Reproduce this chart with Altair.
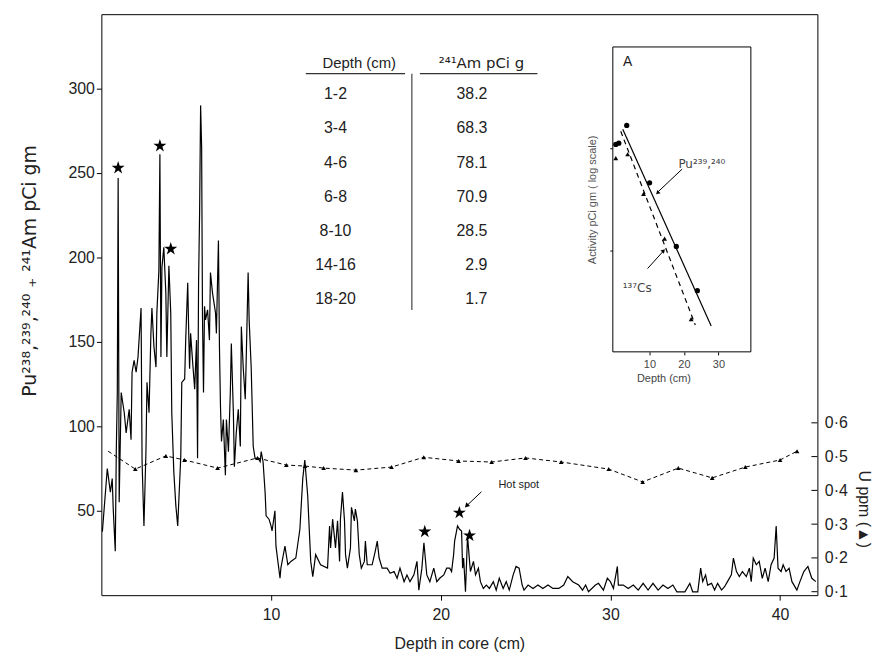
import altair as alt
import pandas as pd

# ---------------- data ----------------
# Pu(238,239,240) + Am(241) activity (pCi/gm) vs depth in core (cm)
depth = [0.06, 0.35, 0.53, 0.64, 0.70, 0.82, 0.88, 0.94, 0.99, 1.05, 1.17, 1.35, 1.46, 1.64, 1.75,
         1.81, 1.93, 2.05, 2.16, 2.34, 2.40, 2.51, 2.63, 2.69, 2.81, 2.92, 2.98, 3.10, 3.22, 3.27,
         3.39, 3.45, 3.51, 3.57, 3.68, 3.80, 3.86, 3.98, 4.09, 4.15, 4.27, 4.39, 4.50, 4.68, 4.74,
         4.91, 4.97, 5.09, 5.15, 5.20, 5.26, 5.38, 5.50, 5.61, 5.67, 5.73, 5.79, 5.85, 5.91, 5.96,
         6.02, 6.08, 6.14, 6.26, 6.37, 6.43, 6.55, 6.73, 6.78, 6.90, 6.96, 7.02, 7.08, 7.19, 7.31,
         7.37, 7.49, 7.60, 7.66, 7.78, 7.84, 7.95, 8.07, 8.19, 8.25, 8.36, 8.48, 8.54, 8.65, 8.71,
         8.83, 8.95, 9.06, 9.24, 9.36, 9.42, 9.53, 9.65, 9.71, 9.88, 10.00, 10.06, 10.23, 10.29, 10.53,
         10.58, 10.82, 10.99, 11.17, 11.46, 11.70, 11.87, 11.99, 12.16, 12.34, 12.46, 12.63, 12.92, 13.33, 13.45,
         13.51, 13.63, 13.80, 13.92, 14.04, 14.09, 14.21, 14.33, 14.39, 14.50, 14.68, 14.74, 14.91, 14.97, 15.09,
         15.20, 15.32, 15.50, 15.56, 15.67, 15.96, 16.14, 16.26, 16.37, 16.55, 16.84, 17.02, 17.25, 17.43, 17.60,
         17.84, 18.01, 18.19, 18.42, 18.60, 18.71, 18.89, 19.01, 19.18, 19.36, 19.59, 19.77, 19.94, 20.18, 20.35,
         20.53, 20.64, 20.76, 20.82, 20.99, 21.11, 21.23, 21.29, 21.35, 21.46, 21.58, 21.70, 21.75, 21.93, 22.05,
         22.22, 22.34, 22.51, 22.69, 22.87, 23.10, 23.27, 23.45, 23.68, 23.86, 24.04, 24.27, 24.44, 24.62, 24.80,
         24.91, 25.15, 25.44, 25.73, 26.02, 26.32, 26.61, 26.96, 27.25, 27.49, 27.78, 28.13, 28.36, 28.54, 28.71,
         29.12, 29.30, 29.59, 29.82, 30.00, 30.18, 30.41, 30.47, 30.76, 31.05, 31.35, 31.64, 31.93, 32.22, 32.51,
         32.81, 33.10, 33.39, 33.68, 33.92, 34.39, 34.68, 34.85, 35.15, 35.32, 35.44, 35.61, 35.73, 35.96, 36.14,
         36.32, 36.55, 36.73, 36.90, 37.13, 37.25, 37.43, 37.60, 37.78, 38.01, 38.19, 38.30, 38.42, 38.60, 38.77,
         38.95, 39.12, 39.30, 39.47, 39.65, 39.77, 39.88, 40.06, 40.18, 40.35, 40.53, 40.70, 40.99, 41.17, 41.40,
         41.64, 41.87, 42.11]
activity = [37.6, 75, 61, 69, 51, 26, 85, 120, 247, 55, 120, 108, 96, 110, 92,
            132, 139, 132, 141, 170, 79, 41, 86, 126, 108, 155, 170, 147, 135, 167,
            192, 261, 141, 194, 206, 179, 141, 195, 167, 108, 73, 53, 41, 82, 126,
            128, 151, 185, 155, 134, 155, 138, 122, 151, 81, 186, 226, 290, 265, 165,
            120, 171, 163, 169, 151, 191, 179, 167, 155, 210, 147, 112, 91, 104, 71,
            104, 85, 120, 149, 108, 76, 96, 110, 88, 159, 135, 116, 141, 191, 163,
            135, 88, 81, 81, 79, 85, 79, 61, 47, 45, 41, 38, 50, 29, 10,
            16, 29, 18, 20, 22, 39, 69, 80, 59, 20, 11, 24, 18, 16, 41,
            28, 45, 28, 44, 20, 45, 61, 44, 24, 16, 28, 52, 44, 51, 44,
            24, 16, 20, 32, 18, 18, 26, 32, 22, 16, 16, 13, 14, 10, 16,
            8, 12, 8, 12, 20, 3, 16, 31, 12, 8, 16, 8, 10, 12, 16,
            16, 14, 24, 32, 41, 39, 38, 16, 22, 2, 35, 20, 14, 20, 12,
            16, 8, 4, 6, 4, 8, 3, 10, 4, 8, 3, 12, 17, 16, 6,
            3, 6, 4, 6, 4, 6, 4, 4, 6, 11, 8, 6, 3, 6, 2,
            6, 7, 3, 10, 8, 4, 17, 6, 6, 4, 6, 3, 7, 3, 7,
            3, 6, 4, 6, 2, 2, 7, 2, 2, 16, 8, 12, 6, 7, 3,
            7, 3, 5, 8, 12, 22, 14, 11, 14, 11, 16, 8, 22, 18, 20,
            10, 16, 8, 18, 22, 41, 16, 14, 18, 14, 16, 8, 3, 8, 14,
            17, 10, 8]

# Uranium (ppm) profile (dashed line with triangles, right axis)
u_depth = [0.4, 2.0, 3.8, 4.9, 6.85, 9.2, 10.9, 12.0, 13.1, 15.0, 17.1, 19.0, 21.05, 23.0,
           25.0, 27.1, 29.9, 31.9, 34.0, 36.0, 37.95, 40.0, 41.0]
u_ppm = [0.516, 0.463, 0.502, 0.490, 0.466, 0.496, 0.475, 0.472, 0.466, 0.460, 0.469, 0.498,
         0.487, 0.484, 0.496, 0.484, 0.463, 0.425, 0.466, 0.437, 0.469, 0.490, 0.516]

# starred peaks
star_depth = [0.99, 3.45, 4.09, 19.06, 21.1, 21.7]
star_val = [253, 266, 205, 37.6, 48.8, 35.3]

# Am-241 table
table_depth = ["1-2", "3-4", "4-6", "6-8", "8-10", "14-16", "18-20"]
table_am = ["38.2", "68.3", "78.1", "70.9", "28.5", "2.9", "1.7"]

# inset A (log activity vs depth)
inset_pu_depth = [0.26, 1.13, 3.43, 10.05, 17.8, 23.9]
inset_pu_act = [110, 113, 169, 46, 10.9, 4.0]
inset_cs_depth = [0.26, 3.7, 8.3, 14.4, 22.1]
inset_cs_act = [80.5, 88, 35.8, 13, 2.1]
inset_pu_fit_depth = [2.28, 27.9]
inset_pu_fit_act = [155, 1.8]
inset_cs_fit_depth = [1.7, 23.3]
inset_cs_fit_act = [148, 1.84]

x_ticks = [10, 20, 30, 40]
y_ticks = [50, 100, 150, 200, 250, 300]
u_ticks = [0.1, 0.2, 0.3, 0.4, 0.5, 0.6]
inset_x_ticks = [10, 20, 30]
inset_y_ticks = [10, 100]

# ---------------- styling ----------------
FONT = "Liberation Sans"
SUPFONT = "DejaVu Sans"
INK = "#222222"
W, H = 721, 585
STAR = ("M0,-1 L0.2245,-0.309 L0.951,-0.309 L0.363,0.118 L0.588,0.809 L0,0.382 "
        "L-0.588,0.809 L-0.363,0.118 L-0.951,-0.309 L-0.2245,-0.309 Z")

X_MAIN = alt.Scale(domain=[0, 42.2], nice=False, zero=False)
Y_MAIN = alt.Scale(domain=[0, 344], nice=False, zero=False)
Y_U = alt.Scale(domain=[0.0897, 1.81], nice=False, zero=False)
X_IN = alt.Scale(domain=[-0.6, 39.4], range=[515, 654], nice=False, zero=False)
Y_IN = alt.Scale(type="log", domain=[1, 1000], range=[340, 33], nice=False)

ax_x = alt.Axis(orient="bottom", values=x_ticks, tickSize=5, labelPadding=6, titlePadding=14,
                labelFontSize=16, titleFontSize=16, domain=False, grid=False, format="d")
ax_y = alt.Axis(orient="left", values=y_ticks, tickSize=5, labelPadding=2, labelFontSize=16,
                titleFont=SUPFONT, titleFontSize=19, titleAngle=270, titleX=-66, titleY=258,
                titleBaseline="alphabetic", domain=False, grid=False, format="d")
ax_u = alt.Axis(orient="right", values=u_ticks, ticks=False, labelPadding=7, labelFontSize=16,
                labelExpr="replace(format(datum.value, '.1f'), '.', '·')",
                titleFontSize=16, titleAngle=90, titleX=41, titleY=498, titleBaseline="alphabetic",
                domain=False, grid=False)
ax_ix = alt.Axis(orient="bottom", offset=-245, values=inset_x_ticks, tickSize=3, labelPadding=4,
                 titlePadding=3, labelFontSize=11, titleFontSize=11, titleX=566,
                 labelColor="#444444", titleColor="#444444", domain=False, grid=False, format="d")
ax_iy = alt.Axis(orient="left", offset=-515, values=inset_y_ticks, labels=False, tickSize=3,
                 titlePadding=12, titleFontSize=11, titleColor="#555555", domain=False, grid=False)

LEFT_TITLE = "Pu²³⁸,²³⁹,²⁴⁰ ₊ ²⁴¹Am   pCi   gm"


def xe():
    return alt.X("d:Q", scale=X_MAIN, axis=ax_x, title="Depth in core  (cm)")


def ye():
    return alt.Y("v:Q", scale=Y_MAIN, axis=ax_y, title=LEFT_TITLE)


def ixe():
    return alt.X("ix:Q", scale=X_IN, axis=ax_ix, title="Depth (cm)")


def iye():
    return alt.Y("iy:Q", scale=Y_IN, axis=ax_iy, title="Activity  pCi gm ( log scale)")


# ---------------- main layer ----------------
df_trace = pd.DataFrame({"d": depth, "v": activity})
trace = alt.Chart(df_trace).mark_line(color="black", strokeWidth=1.2, strokeJoin="miter").encode(
    x=xe(), y=ye())

df_star = pd.DataFrame({"d": star_depth, "v": star_val})
stars = alt.Chart(df_star).mark_point(shape=STAR, filled=True, color="black", size=190,
                                      opacity=1).encode(x=xe(), y=ye())

df_hot_line = pd.DataFrame({"d": [22.4], "d2": [21.6], "v": [61.2], "v2": [53.6]})
hot_line = alt.Chart(df_hot_line).mark_rule(color="black", strokeWidth=1).encode(
    x=xe(), x2="d2:Q", y=ye(), y2="v2:Q")
df_hot_head = pd.DataFrame({"d": [21.52], "v": [52.9], "a": [225]})
hot_head = alt.Chart(df_hot_head).mark_point(shape="triangle-up", filled=True, color="black",
                                             size=28, opacity=1).encode(
    x=xe(), y=ye(), angle=alt.Angle("a:Q", scale=None))
df_hot_text = pd.DataFrame({"d": [24.6], "v": [65], "t": ["Hot  spot"]})
hot_text = alt.Chart(df_hot_text).mark_text(font=FONT, fontSize=11, color=INK, baseline="middle").encode(
    x=xe(), y=ye(), text="t:N")

# table (rows laid out from the top row downward)
row_top, row_step = 296.5, 20.2
df_rows = pd.DataFrame({
    "c1": table_depth,
    "c2": table_am,
    "v": [row_top - i * row_step for i in range(len(table_depth))],
})
df_rows["d1"] = 13.8
df_rows["d2"] = 22.75
col1 = alt.Chart(df_rows).mark_text(font=FONT, fontSize=16, color=INK, baseline="middle").encode(
    x=alt.X("d1:Q", scale=X_MAIN, axis=ax_x, title="Depth in core  (cm)"), y=ye(), text="c1:N")
col2 = alt.Chart(df_rows).mark_text(font=FONT, fontSize=16, color=INK, baseline="middle",
                                    align="right").encode(
    x=alt.X("d2:Q", scale=X_MAIN, axis=ax_x, title="Depth in core  (cm)"), y=ye(), text="c2:N")
df_head1 = pd.DataFrame({"d": [15.2], "v": [315.3], "t": ["Depth (cm)"]})
head1 = alt.Chart(df_head1).mark_text(font=FONT, fontSize=15, color=INK, baseline="middle").encode(
    x=xe(), y=ye(), text="t:N")
df_head2 = pd.DataFrame({"d": [22.4], "v": [315.3], "t": ["²⁴¹Am  pCi  g"]})
head2 = alt.Chart(df_head2).mark_text(font=SUPFONT, fontSize=15, color=INK, baseline="middle").encode(
    x=xe(), y=ye(), text="t:N")
df_tab_lines = pd.DataFrame({"d": [12.05, 18.77, 18.3], "d2": [17.9, 25.7, 18.3],
                             "v": [308.8, 308.8, 308.8], "v2": [308.8, 308.8, 168.8]})
tab_lines = alt.Chart(df_tab_lines).mark_rule(color="#333333", strokeWidth=1.1).encode(
    x=xe(), x2="d2:Q", y=ye(), y2="v2:Q")

main = alt.layer(trace, stars, hot_line, hot_head, hot_text, tab_lines, head1, head2, col1, col2)

# ---------------- uranium layer (right axis) ----------------
df_u = pd.DataFrame({"d": u_depth, "u": u_ppm})
UX = alt.X("d:Q", scale=X_MAIN, axis=None)
UY = alt.Y("u:Q", scale=Y_U, axis=ax_u, title="U ppm (▲)")
u_line = alt.Chart(df_u).mark_line(color="black", strokeWidth=1, strokeDash=[4, 3]).encode(x=UX, y=UY)
u_pts = alt.Chart(df_u.iloc[1:]).mark_point(shape="triangle-up", filled=True, color="black",
                                            size=22, opacity=1).encode(x=UX, y=UY)
df_uticks = pd.DataFrame({"u": u_ticks})
u_tick_marks = alt.Chart(df_uticks).mark_rule(color="black", strokeWidth=1).encode(
    y=UY, x=alt.value(W - 6), x2=alt.value(W))
u_layer = alt.layer(u_line, u_pts, u_tick_marks)

# ---------------- inset A ----------------
df_box = pd.DataFrame({"ix": [-0.6], "ix2": [39.4], "iy": [1], "iy2": [1000]})
box = alt.Chart(df_box).mark_rect(fill="white", stroke="black", strokeWidth=1).encode(
    x=ixe(), x2="ix2:Q", y=iye(), y2="iy2:Q")
df_pu_fit = pd.DataFrame({"ix": inset_pu_fit_depth, "iy": inset_pu_fit_act})
pu_fit = alt.Chart(df_pu_fit).mark_line(color="black", strokeWidth=1.2).encode(x=ixe(), y=iye())
df_cs_fit = pd.DataFrame({"ix": inset_cs_fit_depth, "iy": inset_cs_fit_act})
cs_fit = alt.Chart(df_cs_fit).mark_line(color="black", strokeWidth=1.2, strokeDash=[5, 4]).encode(
    x=ixe(), y=iye())
df_pu = pd.DataFrame({"ix": inset_pu_depth, "iy": inset_pu_act})
pu_pts = alt.Chart(df_pu).mark_point(shape="circle", filled=True, color="black", size=28,
                                     opacity=1).encode(x=ixe(), y=iye())
df_cs = pd.DataFrame({"ix": inset_cs_depth, "iy": inset_cs_act})
cs_pts = alt.Chart(df_cs).mark_point(shape="triangle-up", filled=True, color="black", size=24,
                                     opacity=1).encode(x=ixe(), y=iye())
df_arrows = pd.DataFrame({"ix": [19.5, 9.47], "ix2": [12.6, 13.8], "iy": [62.9, 6.6], "iy2": [37.8, 9.6]})
arrows = alt.Chart(df_arrows).mark_rule(color="black", strokeWidth=1).encode(
    x=ixe(), x2="ix2:Q", y=iye(), y2="iy2:Q")
df_heads = pd.DataFrame({"ix": [12.35, 14.1], "iy": [36.6, 9.9], "a": [226, 42]})
heads = alt.Chart(df_heads).mark_point(shape="triangle-up", filled=True, color="black", size=22,
                                       opacity=1).encode(
    x=ixe(), y=iye(), angle=alt.Angle("a:Q", scale=None))
df_labels = pd.DataFrame({"ix": [18.4, 2.28], "iy": [70.4, 4.2], "t": ["Pu²³⁹,²⁴⁰", "¹³⁷Cs"]})
labels = alt.Chart(df_labels).mark_text(font=SUPFONT, fontSize=12, color="#444444", align="left",
                                        baseline="middle").encode(x=ixe(), y=iye(), text="t:N")
df_a = pd.DataFrame({"ix": [3.7], "iy": [715], "t": ["A"]})
a_lab = alt.Chart(df_a).mark_text(font=FONT, fontSize=14, color=INK, baseline="middle").encode(
    x=ixe(), y=iye(), text="t:N")
inset = alt.layer(box, cs_fit, pu_fit, pu_pts, cs_pts, arrows, heads, labels, a_lab)

chart = alt.layer(main, u_layer, inset).resolve_scale(
    x="independent", y="independent"
).properties(
    width=W, height=H,
    padding={"left": 94, "top": 4, "right": 59, "bottom": 56},
    autosize=alt.AutoSizeParams(type="none"),
    background="white",
).configure_axis(
    labelFont=FONT, titleFont=FONT, labelColor=INK, titleColor=INK, tickColor="black",
    titleFontWeight="normal",
).configure_view(stroke="black", strokeWidth=1)

chart.save("out.html", embed_options={"renderer": "svg", "actions": False})
